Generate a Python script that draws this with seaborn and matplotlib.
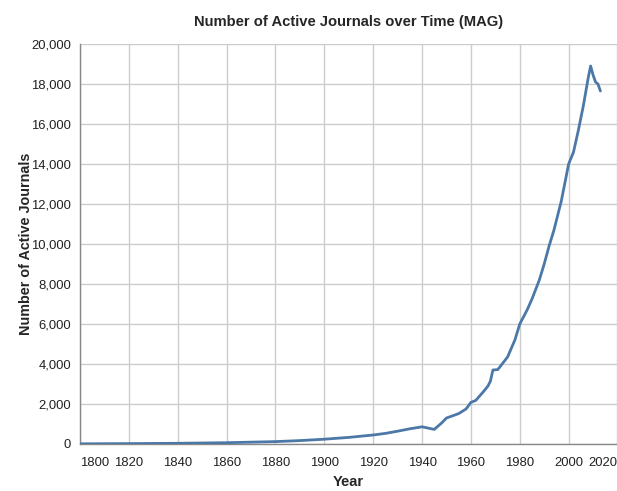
import matplotlib
matplotlib.use('Agg')
import matplotlib.pyplot as plt
import pandas as pd
import seaborn as sns
from matplotlib.ticker import FuncFormatter

# Values
years = [1800, 1820, 1840, 1860, 1880, 1890, 1900, 1910, 1920, 1925,
         1930, 1935, 1940, 1945, 1948, 1950, 1955, 1958, 1960, 1962,
         1965, 1967, 1968, 1969, 1971, 1975, 1978, 1980, 1983, 1985,
         1988, 1990, 1992, 1994, 1997, 2000, 2002, 2004, 2006, 2007,
         2008, 2009, 2010, 2011, 2012, 2013]
journals = [10, 20, 35, 65, 120, 170, 240, 330, 450, 530,
            640, 760, 860, 730, 1050, 1300, 1520, 1750, 2080, 2180,
            2600, 2900, 3150, 3700, 3720, 4350, 5200, 6000, 6700, 7250,
            8200, 9000, 9900, 10700, 12150, 14000, 14600, 15700, 16900, 17600,
            18300, 18900, 18450, 18100, 18000, 17650]

x_ticks = list(range(1800, 2021, 20))
y_ticks = list(range(0, 20001, 2000))

df = pd.DataFrame({'Year': years, 'Number of Active Journals': journals})

sns.set_style('white')
plt.rcParams['font.family'] = ['Liberation Sans', 'DejaVu Sans']

fig = plt.figure(figsize=(6.17, 4.91), dpi=100)
ax = fig.add_axes([80 / 617, 1 - 444 / 491, 537.5 / 617, 400 / 491])

sns.lineplot(data=df, x='Year', y='Number of Active Journals', ax=ax,
             color='#4c78a8', linewidth=2, zorder=3)

ax.set_xlim(1800, 2020)
ax.set_ylim(0, 20000)
ax.set_xticks(x_ticks)
ax.set_yticks(y_ticks)
ax.yaxis.set_major_formatter(FuncFormatter(lambda v, p: f'{int(v):,}'))
ax.grid(True, color='#cccccc', linewidth=1, zorder=0)
ax.set_axisbelow(True)

for side in ['top', 'right']:
    ax.spines[side].set_visible(False)
for side in ['left', 'bottom']:
    ax.spines[side].set_color('#888888')
    ax.spines[side].set_linewidth(1)

ax.tick_params(axis='both', length=5.5, width=1, color='#888888',
               labelsize=9.4, labelcolor='#222222')
ax.tick_params(axis='y', pad=0.8)
ax.tick_params(axis='x', pad=3.5)

# flush the outer x labels like the original
xl = ax.get_xticklabels()
xl[0].set_horizontalalignment('left')
xl[-1].set_horizontalalignment('right')

ax.set_xlabel('Year', fontsize=10.5, fontweight='bold', labelpad=5)
ax.set_ylabel('Number of Active Journals', fontsize=10.4, fontweight='bold', labelpad=-1)
ax.set_title('Number of Active Journals over Time (MAG)', fontsize=10.6,
             fontweight='bold', pad=13)

fig.savefig('out.png', dpi=100)
